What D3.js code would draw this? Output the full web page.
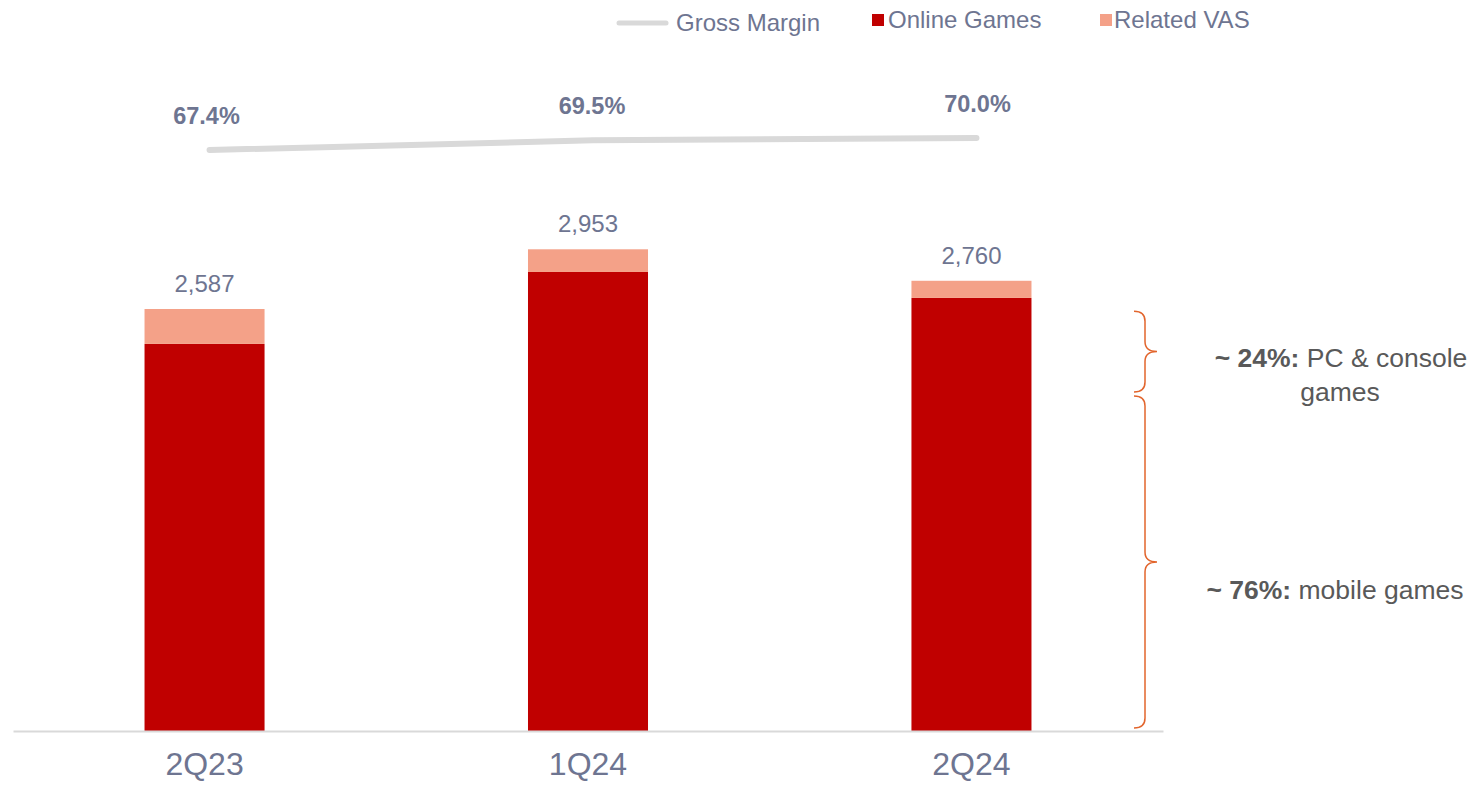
<!DOCTYPE html>
<html>
<head>
<meta charset="utf-8">
<script src="https://cdn.jsdelivr.net/npm/d3@7"></script>
<style>
  body { margin: 0; background: #fff; }
  svg { display: block; font-family: "Liberation Sans", Arial, sans-serif; }
</style>
</head>
<body>
<svg id="chart" width="1473" height="785"></svg>
<script>
// data
var quarters = ["2Q23", "1Q24", "2Q24"];
var onlineGames = [2373, 2814, 2655];
var relatedVas = [214, 139, 105];
var totals = [2587, 2953, 2760];
var grossMargin = [67.4, 69.5, 70.0];
var legendLabels = ["Gross Margin", "Online Games", "Related VAS"];
// brace split (value units on the bar scale) and its notes
var braceStops = [0, 2060, 2580];
var braceNotes = [
    { bold: "~ 76%:", rest: " mobile games", extra: null },
    { bold: "~ 24%:", rest: " PC & console", extra: "games" }
];

var svg = d3.select("#chart");
var textColor = "#6e7591";
var red = "#c00000", salmon = "#f4a188", gray = "#d9d9d9", orange = "#e2652d";

var baseY = 731;
var x = d3.scaleBand()
    .domain(quarters)
    .range([13, 1163])
    .paddingInner(0.687)
    .paddingOuter(0.343);

var y = d3.scaleLinear()
    .domain([0, 2587])
    .range([baseY, 309]);

// gross margin sits on its own scale near the top
var yMargin = d3.scaleLinear()
    .domain([67.4, 70.0])
    .range([150, 138]);

// stacked bars
var stack = quarters.map(function (q, i) {
    return { q: q, online: onlineGames[i], vas: relatedVas[i], total: totals[i] };
});

svg.append("g").selectAll("rect.online")
    .data(stack).enter().append("rect")
    .attr("x", function (d) { return x(d.q); })
    .attr("width", x.bandwidth())
    .attr("y", function (d) { return y(d.online); })
    .attr("height", function (d) { return y(0) - y(d.online); })
    .attr("fill", red);

svg.append("g").selectAll("rect.vas")
    .data(stack).enter().append("rect")
    .attr("x", function (d) { return x(d.q); })
    .attr("width", x.bandwidth())
    .attr("y", function (d) { return y(d.online + d.vas); })
    .attr("height", function (d) { return y(d.online) - y(d.online + d.vas); })
    .attr("fill", salmon);

// totals above bars
svg.append("g").selectAll("text")
    .data(stack).enter().append("text")
    .attr("x", function (d) { return x(d.q) + x.bandwidth() / 2; })
    .attr("y", function (d) { return y(d.online + d.vas) - 17; })
    .attr("text-anchor", "middle")
    .attr("font-size", 24)
    .attr("fill", textColor)
    .text(function (d, i) { return d3.format(",")(totals[i]); });

// axis baseline and category labels
var xAxis = svg.append("g")
    .attr("transform", "translate(0," + baseY + ")")
    .call(d3.axisBottom(x).tickSize(0).tickPadding(21));
xAxis.select(".domain").attr("stroke", gray).attr("stroke-width", 2);
xAxis.selectAll("text")
    .attr("font-size", 32)
    .attr("font-family", "Liberation Sans, Arial, sans-serif")
    .attr("fill", textColor);

// gross margin line
var marginLine = d3.line()
    .x(function (d, i) { return x(quarters[i]) + x.bandwidth() / 2 + 5; })
    .y(function (d) { return yMargin(d); });

svg.append("path")
    .datum(grossMargin)
    .attr("d", marginLine)
    .attr("fill", "none")
    .attr("stroke", gray)
    .attr("stroke-width", 6)
    .attr("stroke-linecap", "round");

svg.append("g").selectAll("text")
    .data(grossMargin).enter().append("text")
    .attr("x", function (d, i) { return x(quarters[i]) + x.bandwidth() / 2 + 2 + i * 2; })
    .attr("y", function (d) { return yMargin(d) - 26; })
    .attr("text-anchor", "middle")
    .attr("font-size", 23.5)
    .attr("font-weight", "bold")
    .attr("fill", textColor)
    .text(function (d) { return d.toFixed(1) + "%"; });

// legend
var legend = svg.append("g").attr("font-size", 24).attr("fill", textColor);
legend.append("line")
    .attr("x1", 619).attr("x2", 666).attr("y1", 23).attr("y2", 23)
    .attr("stroke", gray).attr("stroke-width", 5).attr("stroke-linecap", "round");
legend.append("text").attr("x", 676).attr("y", 31).text(legendLabels[0]);
legend.append("rect").attr("x", 872).attr("y", 14).attr("width", 12).attr("height", 12).attr("fill", red);
legend.append("text").attr("x", 888).attr("y", 28).text(legendLabels[1]);
legend.append("rect").attr("x", 1100).attr("y", 14).attr("width", 12).attr("height", 12).attr("fill", salmon);
legend.append("text").attr("x", 1114).attr("y", 28).text(legendLabels[2]);

// curly braces on the right
function bracePath(x0, yTop, yBot) {
    var xm = x0 + 11, xt = x0 + 23, r = 10;
    var mid = (yTop + yBot) / 2;
    return "M" + x0 + "," + yTop +
        " Q" + xm + "," + yTop + " " + xm + "," + (yTop + r) +
        " L" + xm + "," + (mid - r) +
        " Q" + xm + "," + mid + " " + xt + "," + mid +
        " Q" + xm + "," + mid + " " + xm + "," + (mid + r) +
        " L" + xm + "," + (yBot - r) +
        " Q" + xm + "," + yBot + " " + x0 + "," + yBot;
}

var braceX = 1134;
for (var b = 0; b < braceStops.length - 1; b++) {
    var yBot = y(braceStops[b]) - 3;
    var yTop = y(braceStops[b + 1]) + 1;
    svg.append("path")
        .attr("d", bracePath(braceX, yTop, yBot))
        .attr("fill", "none")
        .attr("stroke", orange)
        .attr("stroke-width", 1.5);

    var note = braceNotes[b];
    var midY = (yTop + yBot) / 2;
    var ty = note.extra ? midY + 15 : midY + 37;
    var t = svg.append("text")
        .attr("x", note.extra ? 1341 : 1335)
        .attr("y", ty)
        .attr("text-anchor", "middle")
        .attr("font-size", 26.5)
        .attr("fill", "#595959");
    t.append("tspan").attr("font-weight", "bold").text(note.bold);
    t.append("tspan").text(note.rest);
    if (note.extra) {
        svg.append("text")
            .attr("x", 1340)
            .attr("y", ty + 34)
            .attr("text-anchor", "middle")
            .attr("font-size", 26.5)
            .attr("fill", "#595959")
            .text(note.extra);
    }
}
</script>
</body>
</html>
